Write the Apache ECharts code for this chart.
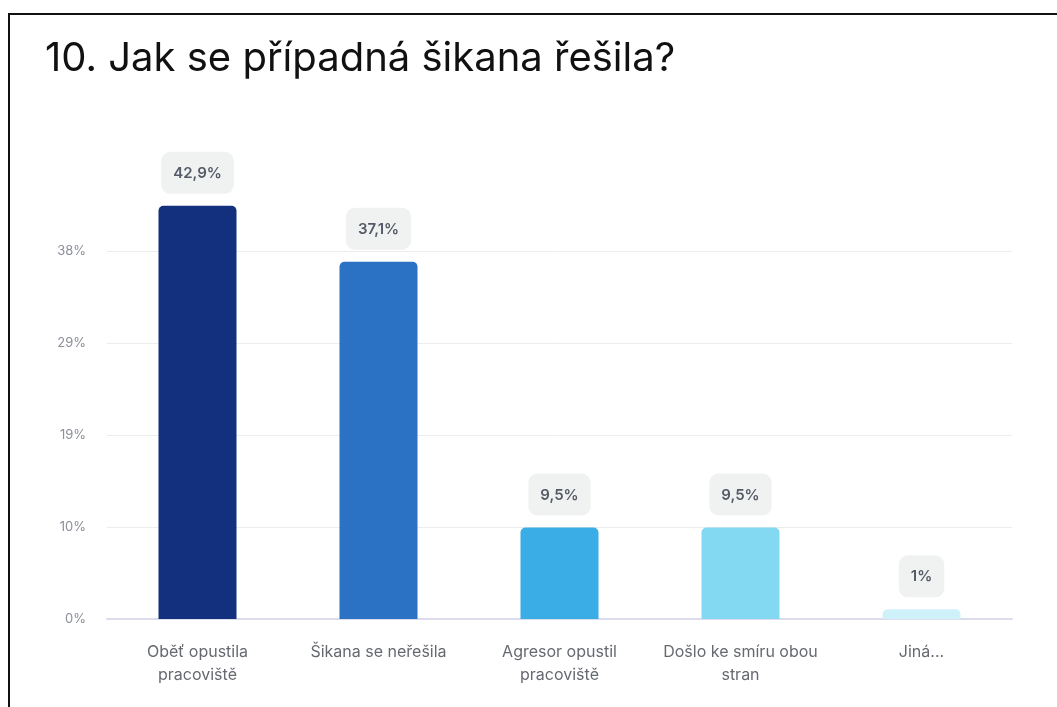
<!DOCTYPE html>
<html>
<head>
<meta charset="utf-8">
<script src="https://cdn.jsdelivr.net/npm/echarts@6/dist/echarts.min.js"></script>
<style>
  html, body { margin: 0; padding: 0; background: #fff; }
  #frame {
    position: absolute; left: 8px; top: 13px; right: 0; bottom: 0;
    border-left: 2px solid #111; border-top: 2px solid #111;
    background: #fff;
  }
  #chart { position: absolute; left: 0; top: 0; width: 1057px; height: 707px; }
</style>
</head>
<body>
<div id="frame"></div>
<div id="chart"></div>
<script>
// Survey question 10: how was the bullying dealt with (share of answers, %)
const title = '10. Jak se případná šikana řešila?';
const categories = [
  'Oběť opustila\npracoviště',
  'Šikana se neřešila',
  'Agresor opustil\npracoviště',
  'Došlo ke smíru obou\nstran',
  'Jiná...'
];
const values = [42.9, 37.1, 9.5, 9.5, 1];
const barColors = ['#13307f', '#2b72c4', '#3badE6', '#83d8f2', '#cef1fa'];
const tickStep = 9.55;   // axis labels: 0%, 10%, 19%, 29%, 38%

const chart = echarts.init(document.getElementById('chart'), null, { renderer: 'canvas' });
const fmtNum = v => String(v).replace('.', ',');

chart.setOption({
  animation: false,
  backgroundColor: 'transparent',
  title: {
    text: title,
    left: 40,
    top: 34,
    textStyle: { fontFamily: 'Inter', fontSize: 40, fontWeight: 400, color: '#111' }
  },
  grid: { left: 107, right: 45, top: 176, bottom: 88 },
  xAxis: {
    type: 'category',
    data: categories,
    axisTick: { show: false },
    axisLine: { show: true, lineStyle: { color: '#dcdced', width: 2 } },
    axisLabel: {
      interval: 0,
      margin: 22,
      fontFamily: 'Inter',
      fontSize: 16,
      lineHeight: 23,
      color: '#666a70',
      align: 'center'
    }
  },
  yAxis: {
    type: 'value',
    min: 0,
    max: 46,
    interval: tickStep,
    axisLine: { show: false },
    axisTick: { show: false },
    splitLine: { show: true, showMaxLine: false, lineStyle: { color: '#ececef', width: 1 } },
    axisLabel: {
      showMaxLabel: false,
      margin: 21,
      fontFamily: 'Inter',
      fontSize: 13,
      color: '#8a8f98',
      formatter: v => Math.round(v) + '%'
    }
  },
  series: [{
    type: 'bar',
    barWidth: 78,
    data: values.map((v, i) => ({ value: v, itemStyle: { color: barColors[i] } })),
    itemStyle: { borderRadius: [5, 5, 0, 0] },
    label: {
      show: true,
      position: 'top',
      distance: 12,
      formatter: p => fmtNum(p.value) + '%',
      fontFamily: 'Inter',
      fontSize: 15,
      fontWeight: 600,
      color: '#555b66',
      backgroundColor: '#f0f1f1',
      borderRadius: 9,
      padding: [14, 12, 13, 12]
    }
  }]
});
</script>
</body>
</html>
